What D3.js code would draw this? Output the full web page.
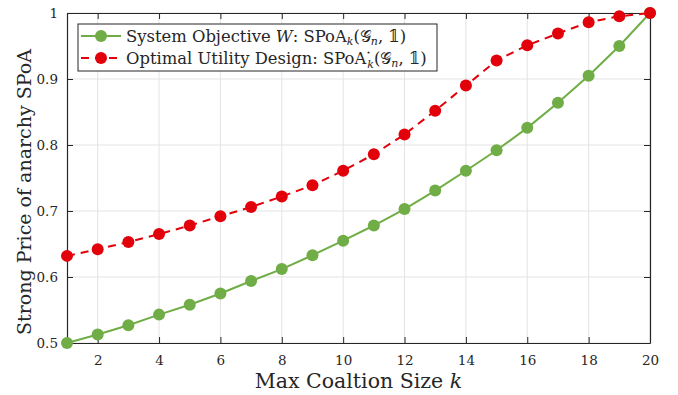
<!DOCTYPE html>
<html>
<head>
<meta charset="utf-8">
<script src="https://cdn.jsdelivr.net/npm/d3@7"></script>
<style>
  body { margin: 0; background: #fff; }
  text { font-family: "DejaVu Serif", "Liberation Serif", serif; fill: #262626; }
</style>
</head>
<body>
<script>
const ks = d3.range(1, 21);
const systemObjective = [0.5, 0.513, 0.527, 0.543, 0.558, 0.575, 0.594, 0.612, 0.633, 0.655,
  0.678, 0.703, 0.731, 0.761, 0.792, 0.826, 0.864, 0.905, 0.950, 1.0];
const optimalDesign = [0.632, 0.642, 0.653, 0.665, 0.678, 0.692, 0.706, 0.722, 0.739, 0.761,
  0.786, 0.816, 0.852, 0.890, 0.928, 0.951, 0.969, 0.986, 0.995, 1.0];
const xTicks = [2, 4, 6, 8, 10, 12, 14, 16, 18, 20];
const yTicks = [0.5, 0.6, 0.7, 0.8, 0.9, 1];

const width = 678, height = 395;
const margin = {left: 67, right: 28, top: 13, bottom: 52};
const green = '#70ad47', red = '#e2000b';

const svg = d3.select('body').append('svg')
  .attr('width', width)
  .attr('height', height);

const x = d3.scaleLinear().domain([1, 20]).range([margin.left, width - margin.right]);
const y = d3.scaleLinear().domain([0.5, 1]).range([height - margin.bottom, margin.top]);

// grid
svg.append('g')
  .selectAll('line.vx')
  .data(xTicks)
  .enter().append('line')
    .attr('x1', d => x(d)).attr('x2', d => x(d))
    .attr('y1', y(0.5)).attr('y2', y(1))
    .attr('stroke', '#e3e3e3').attr('stroke-width', 1);
svg.append('g')
  .selectAll('line.hy')
  .data(yTicks)
  .enter().append('line')
    .attr('x1', x(1)).attr('x2', x(20))
    .attr('y1', d => y(d)).attr('y2', d => y(d))
    .attr('stroke', '#e3e3e3').attr('stroke-width', 1);

// axes (ticks pointing inward, box all round)
const axisStyle = g => {
  g.select('.domain').attr('stroke', '#262626').attr('stroke-width', 1.2);
  g.selectAll('.tick line').attr('stroke', '#262626');
  g.selectAll('.tick text').style('font-size', '13.5px').attr('fill', '#262626');
};
svg.append('g').attr('transform', `translate(0,${y(0.5)})`)
  .call(d3.axisBottom(x).tickValues(xTicks).tickSizeInner(-6).tickSizeOuter(0).tickPadding(12))
  .call(axisStyle);
svg.append('g').attr('transform', `translate(0,${y(1)})`)
  .call(d3.axisTop(x).tickValues(xTicks).tickSizeInner(-6).tickSizeOuter(0).tickFormat(''))
  .call(axisStyle);
svg.append('g').attr('transform', `translate(${x(1)},0)`)
  .call(d3.axisLeft(y).tickValues(yTicks).tickSizeInner(-6).tickSizeOuter(0).tickPadding(9)
    .tickFormat(d => d === 1 ? '1' : d3.format('.1f')(d)))
  .call(axisStyle);
svg.append('g').attr('transform', `translate(${x(20)},0)`)
  .call(d3.axisRight(y).tickValues(yTicks).tickSizeInner(-6).tickSizeOuter(0).tickFormat(''))
  .call(axisStyle);

// series
const series = [
  {values: systemObjective, color: green, dash: null},
  {values: optimalDesign, color: red, dash: '8,6'}
];
const line = d3.line().x((d, i) => x(ks[i])).y(d => y(d));
series.forEach(s => {
  svg.append('path')
    .datum(s.values)
    .attr('d', line)
    .attr('fill', 'none')
    .attr('stroke', s.color)
    .attr('stroke-width', 2)
    .attr('stroke-dasharray', s.dash);
  svg.append('g')
    .selectAll('circle')
    .data(s.values)
    .enter().append('circle')
      .attr('cx', (d, i) => x(ks[i]))
      .attr('cy', d => y(d))
      .attr('r', 6)
      .attr('fill', s.color);
});

// legend
const lg = svg.append('g').attr('transform', 'translate(78,24)');
lg.append('rect').attr('width', 359).attr('height', 47)
  .attr('fill', '#fff').attr('stroke', '#262626').attr('stroke-width', 1);
const legendRows = [
  {color: green, dash: null, y: 12},
  {color: red, dash: '8,6', y: 34}
];
legendRows.forEach(r => {
  lg.append('line').attr('x1', 3).attr('x2', 43).attr('y1', r.y).attr('y2', r.y)
    .attr('stroke', r.color).attr('stroke-width', 2).attr('stroke-dasharray', r.dash);
  lg.append('circle').attr('cx', 23).attr('cy', r.y).attr('r', 6).attr('fill', r.color);
});
const fs = '16.4px', sub = '11px';
const t1 = lg.append('text').attr('x', 48).attr('y', 18).style('font-size', fs);
t1.append('tspan').text('System Objective ');
t1.append('tspan').style('font-style', 'italic').text('W');
t1.append('tspan').text(': SPoA');
t1.append('tspan').style('font-style', 'italic').style('font-size', sub).attr('dy', 3).text('k');
t1.append('tspan').attr('dy', -3).text('(𝒢');
t1.append('tspan').style('font-style', 'italic').style('font-size', sub).attr('dy', 3).text('n');
t1.append('tspan').attr('dy', -3).text(', 𝟙)');
const t2 = lg.append('text').attr('x', 48).attr('y', 40).style('font-size', fs);
t2.append('tspan').text('Optimal Utility Design: SPoA');
t2.append('tspan').style('font-size', '8px').attr('dy', -9).text('⋆');
t2.append('tspan').style('font-style', 'italic').style('font-size', sub).attr('dx', -4).attr('dy', 13).text('k');
t2.append('tspan').attr('dy', -4).text('(𝒢');
t2.append('tspan').style('font-style', 'italic').style('font-size', sub).attr('dy', 3).text('n');
t2.append('tspan').attr('dy', -3).text(', 𝟙)');

// axis labels
const xl = svg.append('text')
  .attr('x', (x(1) + x(20)) / 2).attr('y', 388)
  .attr('text-anchor', 'middle').style('font-size', '20.5px');
xl.append('tspan').text('Max Coaltion Size ');
xl.append('tspan').style('font-style', 'italic').text('k');

svg.append('text')
  .attr('transform', 'translate(31,192) rotate(-90)')
  .attr('text-anchor', 'middle').style('font-size', '19px')
  .text('Strong Price of anarchy SPoA');
</script>
</body>
</html>
